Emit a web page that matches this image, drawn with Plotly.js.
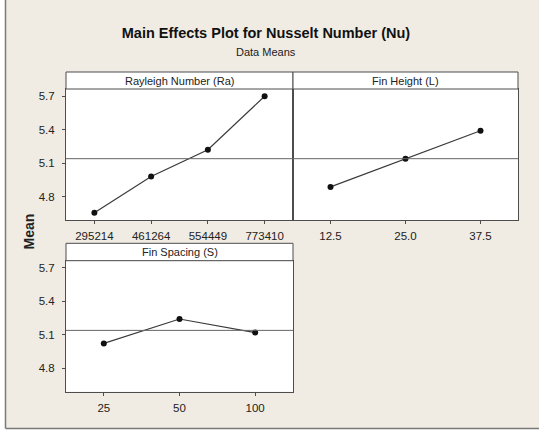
<!DOCTYPE html>
<html>
<head>
<meta charset="utf-8">
<script src="https://cdn.plot.ly/plotly-3.0.1.min.js"></script>
<style>html,body{margin:0;padding:0;background:#fff;}#chart{width:539px;height:430px;}</style>
</head>
<body>
<div id="chart"></div>
<script>
// ---- data ----
const raLevels = ['295214', '461264', '554449', '773410'];
const raMeans = [4.655, 4.98, 5.22, 5.70];
const heightLevels = ['12.5', '25.0', '37.5'];
const heightMeans = [4.887, 5.139, 5.391];
const spacingLevels = ['25', '50', '100'];
const spacingMeans = [5.023, 5.242, 5.12];
const grandMean = 5.14;
const yTicks = [4.8, 5.1, 5.4, 5.7];
const yTickText = ['4.8', '5.1', '5.4', '5.7'];
const panelTitles = ['Rayleigh Number (Ra)', 'Fin Height (L)', 'Fin Spacing (S)'];
const mainTitle = 'Main Effects Plot for Nusselt Number (Nu)';
const subTitle = 'Data Means';
const yTitle = 'Mean';

// ---- layout helpers (pixel -> paper, margins are zero) ----
const W = 539, H = 430;
const px = v => v / W;
const py = v => 1 - v / H;

const FONT = 'Liberation Sans, Arial, sans-serif';
const TXT = '#222222';
const BORDER = '#4d4d4d';

function trace(x, y, xa, ya) {
  return {
    x: x, y: y, xaxis: xa, yaxis: ya, type: 'scatter', mode: 'lines+markers',
    line: {color: '#3a3a3a', width: 1.2},
    marker: {color: '#111111', size: 6},
    hoverinfo: 'x+y', showlegend: false
  };
}

const data = [
  trace(raLevels, raMeans, 'x', 'y'),
  trace(heightLevels, heightMeans, 'x2', 'y2'),
  trace(spacingLevels, spacingMeans, 'x3', 'y3')
];

const yRange = [4.59, 5.765];

function xAxis(dom, anchor, levels) {
  return {
    domain: dom, anchor: anchor, type: 'category',
    categoryorder: 'array', categoryarray: levels,
    range: [-0.5, levels.length - 0.5],
    showgrid: false, zeroline: false,
    showline: true, mirror: true, linecolor: BORDER, linewidth: 1,
    ticks: 'outside', ticklen: 3, tickcolor: BORDER, tickwidth: 1,
    ticklabelstandoff: 2,
    tickfont: {family: FONT, size: 11.5, color: TXT},
    fixedrange: true
  };
}
function yAxis(dom, anchor, labels) {
  return {
    domain: dom, anchor: anchor, range: yRange,
    tickmode: 'array', tickvals: yTicks, ticktext: yTickText,
    showticklabels: labels,
    showgrid: false, zeroline: false,
    showline: true, mirror: true, linecolor: BORDER, linewidth: 1,
    ticks: labels ? 'outside' : '', ticklen: 3, tickcolor: BORDER, tickwidth: 1,
    ticklabelstandoff: 5,
    tickfont: {family: FONT, size: 11.5, color: TXT},
    fixedrange: true
  };
}

const topDom = [py(220), py(89)];
const botDom = [py(391.7), py(260.7)];
const leftDom = [px(66), px(293)];
const rightDom = [px(293), px(518)];

const shapes = [
  // white edges and frame lines of the picture
  {type: 'rect', xref: 'paper', yref: 'paper', x0: 0, x1: px(5), y0: 0, y1: 1, fillcolor: '#ffffff', line: {width: 0}, layer: 'below'},
  {type: 'rect', xref: 'paper', yref: 'paper', x0: 0, x1: 1, y0: 0, y1: py(428.5), fillcolor: '#ffffff', line: {width: 0}, layer: 'below'},
  {type: 'line', xref: 'paper', yref: 'paper', x0: px(5.5), x1: px(5.5), y0: py(428.5), y1: 1, line: {color: '#7a7a7a', width: 1.5}},
  {type: 'line', xref: 'paper', yref: 'paper', x0: px(5.5), x1: 1, y0: py(428.5), y1: py(428.5), line: {color: '#7a7a7a', width: 1.5}},
  // strips
  {type: 'rect', xref: 'paper', yref: 'paper', x0: leftDom[0], x1: leftDom[1], y0: py(89), y1: py(72), fillcolor: '#ffffff', line: {color: BORDER, width: 1}},
  {type: 'rect', xref: 'paper', yref: 'paper', x0: rightDom[0], x1: rightDom[1], y0: py(89), y1: py(72), fillcolor: '#ffffff', line: {color: BORDER, width: 1}},
  {type: 'rect', xref: 'paper', yref: 'paper', x0: leftDom[0], x1: leftDom[1], y0: py(260.7), y1: py(243.3), fillcolor: '#ffffff', line: {color: BORDER, width: 1}},
  // grand-mean reference lines
  {type: 'line', xref: 'x domain', yref: 'y', x0: 0, x1: 1, y0: grandMean, y1: grandMean, line: {color: '#666666', width: 1}},
  {type: 'line', xref: 'x2 domain', yref: 'y2', x0: 0, x1: 1, y0: grandMean, y1: grandMean, line: {color: '#666666', width: 1}},
  {type: 'line', xref: 'x3 domain', yref: 'y3', x0: 0, x1: 1, y0: grandMean, y1: grandMean, line: {color: '#666666', width: 1}}
];

const annotations = [
  {text: subTitle, xref: 'paper', yref: 'paper', x: px(266), y: py(52), xanchor: 'center', yanchor: 'middle', showarrow: false, font: {family: FONT, size: 11, color: TXT}},
  {text: panelTitles[0], xref: 'paper', yref: 'paper', x: (leftDom[0] + leftDom[1]) / 2, y: py(80.5), xanchor: 'center', yanchor: 'middle', showarrow: false, font: {family: FONT, size: 11, color: TXT}},
  {text: panelTitles[1], xref: 'paper', yref: 'paper', x: (rightDom[0] + rightDom[1]) / 2, y: py(80.5), xanchor: 'center', yanchor: 'middle', showarrow: false, font: {family: FONT, size: 11, color: TXT}},
  {text: panelTitles[2], xref: 'paper', yref: 'paper', x: (leftDom[0] + leftDom[1]) / 2, y: py(252), xanchor: 'center', yanchor: 'middle', showarrow: false, font: {family: FONT, size: 11, color: TXT}},
  {text: '<b>' + yTitle + '</b>', xref: 'paper', yref: 'paper', x: px(28.5), y: py(232), xanchor: 'center', yanchor: 'middle', textangle: -90, showarrow: false, font: {family: FONT, size: 14, color: TXT}}
];

const layout = {
  width: W, height: H,
  margin: {l: 0, r: 0, t: 0, b: 0, pad: 0},
  paper_bgcolor: '#f0ece3',
  plot_bgcolor: '#ffffff',
  showlegend: false,
  title: {
    text: '<b>' + mainTitle + '</b>',
    x: px(266), xanchor: 'center', xref: 'paper',
    y: py(33), yanchor: 'middle', yref: 'container',
    font: {family: FONT, size: 14.5, color: '#111111'}
  },
  xaxis: xAxis(leftDom, 'y', raLevels),
  yaxis: yAxis(topDom, 'x', true),
  xaxis2: xAxis(rightDom, 'y2', heightLevels),
  yaxis2: yAxis(topDom, 'x2', false),
  xaxis3: xAxis(leftDom, 'y3', spacingLevels),
  yaxis3: yAxis(botDom, 'x3', true),
  shapes: shapes,
  annotations: annotations
};

Plotly.newPlot('chart', data, layout, {displayModeBar: false, staticPlot: true});
</script>
</body>
</html>
